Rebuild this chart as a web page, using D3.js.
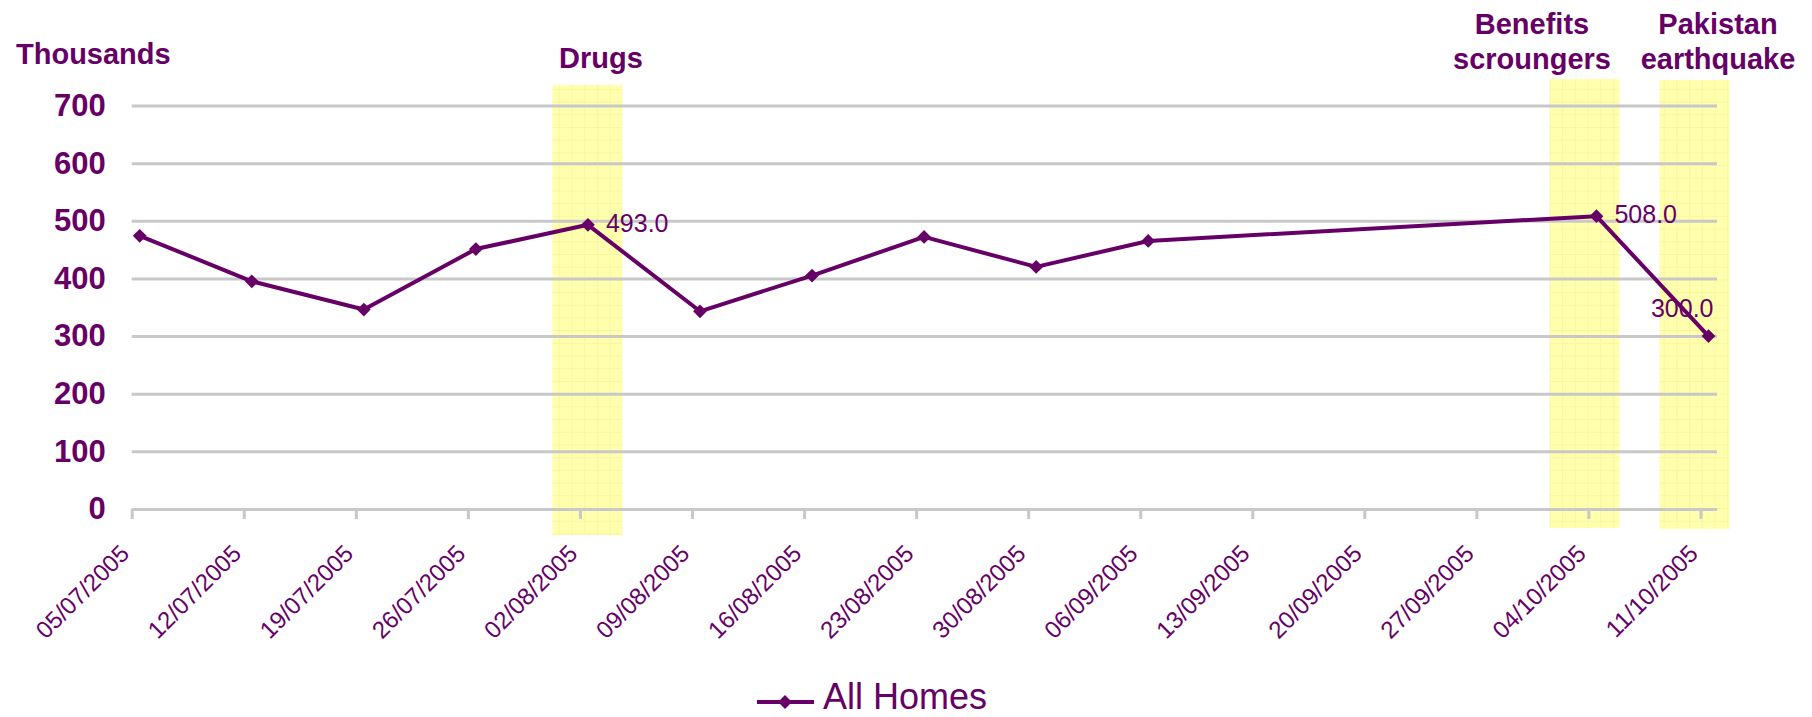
<!DOCTYPE html>
<html>
<head>
<meta charset="utf-8">
<script src="https://cdn.jsdelivr.net/npm/d3@7"></script>
<style>
  body { margin: 0; background: #fff; }
  svg { display: block; font-family: Arial, "Liberation Sans", sans-serif; }
</style>
</head>
<body>
<svg width="1812" height="717"></svg>
<script>
// weekly figures, thousands
const dates = ["05/07/2005", "12/07/2005", "19/07/2005", "26/07/2005", "02/08/2005", "09/08/2005",
  "16/08/2005", "23/08/2005", "30/08/2005", "06/09/2005", "04/10/2005", "11/10/2005"];
const allHomes = [474, 395, 346, 451, 493, 343, 405, 472, 420, 465, 508, 300];
const tickLabels = ["05/07/2005", "12/07/2005", "19/07/2005", "26/07/2005", "02/08/2005", "09/08/2005",
  "16/08/2005", "23/08/2005", "30/08/2005", "06/09/2005", "13/09/2005", "20/09/2005", "27/09/2005",
  "04/10/2005", "11/10/2005"];
const yTicks = [0, 100, 200, 300, 400, 500, 600, 700];
// events highlighted
const eventDates = ["02/08/2005", "04/10/2005", "11/10/2005"];
const eventLabels = [["Drugs"], ["Benefits", "scroungers"], ["Pakistan", "earthquake"]];
const labelled = ["02/08/2005", "04/10/2005", "11/10/2005"];

const purple = "#660066";
const parse = d3.utcParse("%d/%m/%Y");
const svg = d3.select("svg");

const x = d3.scaleUtc()
  .domain([parse("05/07/2005"), parse("12/10/2005")])
  .range([131.7, 1716.5]);
const y = d3.scaleLinear().domain([0, 700]).range([509, 105.5]);
const mid = d => d3.utcHour.offset(parse(d), 12);

// faint grid inside the highlight boxes
const pat = svg.append("defs").append("pattern")
  .attr("id", "hl").attr("patternUnits", "userSpaceOnUse")
  .attr("width", 12.7).attr("height", 12.7);
pat.append("rect").attr("width", 12.7).attr("height", 12.7).attr("fill", "#ffffad");
pat.append("path").attr("d", "M0,0.5H12.7M0.5,0V12.7")
  .attr("stroke", "#f7f7a2").attr("stroke-width", 1);

// yellow bands behind everything (hand placed in the original, so nudged per box)
const bandShift = [7.5, -4, -6];
const bandTop = [85, 79, 80], bandBot = [535, 528, 529];
const labelX = [601, 1532, 1718];
const bands = svg.append("g");
eventDates.forEach((d, i) => {
  const cx = x(parse(d)) + bandShift[i];
  bands.append("rect")
    .attr("x", cx - 35).attr("y", bandTop[i])
    .attr("width", 70).attr("height", bandBot[i] - bandTop[i])
    .attr("fill", "url(#hl)");
  const lab = svg.append("text")
    .attr("fill", purple).attr("font-weight", "bold").attr("font-size", 29)
    .attr("text-anchor", "middle");
  const base = eventLabels[i].length == 1 ? 68 : 34;
  eventLabels[i].forEach((t, j) => {
    lab.append("tspan").attr("x", labelX[i]).attr("y", base + j * 35).text(t);
  });
});

// gridlines + y labels
const yAxis = svg.append("g")
  .attr("transform", "translate(131.7,0)")
  .call(d3.axisLeft(y).tickValues(yTicks).tickSize(-(1717 - 131.7)).tickPadding(26));
yAxis.select(".domain").remove();
yAxis.selectAll("line").attr("stroke", "#c8c8c8").attr("stroke-width", 3);
yAxis.selectAll("text").attr("fill", purple).attr("font-size", 31)
  .attr("font-weight", "bold").attr("font-family", "Arial, 'Liberation Sans', sans-serif");

// x axis ticks + rotated labels
const xAxis = svg.append("g")
  .attr("transform", "translate(0,509)")
  .call(d3.axisBottom(x).tickValues(tickLabels.map(parse)).tickSize(10).tickFormat(""));
xAxis.select(".domain").remove();
xAxis.selectAll("line").attr("stroke", "#c8c8c8").attr("stroke-width", 3);
svg.append("g").selectAll("text")
  .data(tickLabels).enter()
  .append("text")
  .attr("transform", d => "translate(" + (x(parse(d)) - 1) + ",555) rotate(-45)")
  .attr("text-anchor", "end")
  .attr("fill", purple).attr("font-size", 24)
  .text(d => d);

// "Thousands"
svg.append("text").attr("x", 16).attr("y", 64)
  .attr("fill", purple).attr("font-weight", "bold").attr("font-size", 29)
  .text("Thousands");

// the series
const pts = dates.map((d, i) => ({ d: d, v: allHomes[i] }));
svg.append("path")
  .datum(pts)
  .attr("fill", "none").attr("stroke", purple).attr("stroke-width", 4)
  .attr("stroke-linejoin", "round")
  .attr("d", d3.line().x(p => x(mid(p.d))).y(p => y(p.v)));
const diamond = d3.symbol().type(d3.symbolSquare).size(95);
svg.append("g").selectAll("path")
  .data(pts).enter()
  .append("path")
  .attr("d", diamond)
  .attr("fill", purple)
  .attr("transform", p => "translate(" + x(mid(p.d)) + "," + y(p.v) + ") rotate(45)");

// value labels
svg.append("g").selectAll("text")
  .data(pts.filter(p => labelled.includes(p.d))).enter()
  .append("text")
  .attr("fill", purple).attr("font-size", 25)
  .attr("x", (p, i) => i < 2 ? x(mid(p.d)) + 18 : x(mid(p.d)) + 5)
  .attr("y", (p, i) => i < 2 ? y(p.v) + 7 : y(p.v) - 19)
  .attr("text-anchor", (p, i) => i < 2 ? "start" : "end")
  .text(p => p.v.toFixed(1));

// legend
const leg = svg.append("g");
leg.append("line").attr("x1", 757).attr("x2", 814).attr("y1", 702).attr("y2", 702)
  .attr("stroke", purple).attr("stroke-width", 4);
leg.append("path").attr("d", diamond).attr("fill", purple)
  .attr("transform", "translate(785,702) rotate(45)");
leg.append("text").attr("x", 823).attr("y", 709)
  .attr("fill", purple).attr("font-size", 36).text("All Homes");
</script>
</body>
</html>
